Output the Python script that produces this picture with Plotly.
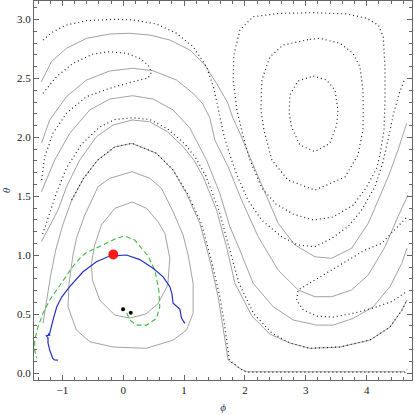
import plotly.graph_objects as go

# ---- solid (gray) level curves ----
loop1_x = [0.148, 0.382, 0.572, 0.683, 0.765, 0.732, 0.567, 0.370, 0.107, -0.140, -0.387, -0.507, -0.523, -0.469, -0.359, -0.140, 0.148]
loop1_y = [1.452, 1.398, 1.284, 1.186, 0.976, 0.747, 0.586, 0.501, 0.467, 0.492, 0.620, 0.789, 0.931, 1.087, 1.256, 1.398, 1.452]

loop2_x = [0.145, 0.436, 0.628, 0.819, 0.984, 1.066, 1.148, 1.148, 1.039, 0.819, 0.382, -0.168, -0.551, -0.770, -0.908, -0.891, -0.826, -0.770, -0.633, -0.414, -0.222, 0.145]
loop2_y = [1.709, 1.653, 1.568, 1.369, 1.171, 1.002, 0.761, 0.507, 0.365, 0.280, 0.210, 0.221, 0.266, 0.365, 0.563, 0.761, 1.002, 1.143, 1.341, 1.582, 1.653, 1.709]

s1_x = [-1.345, -1.181, -0.934, -0.605, -0.222, 0.107, 0.436, 0.765, 1.094, 1.340, 1.533, 1.719, 1.801, 1.916, 2.053, 2.217, 2.377, 2.546, 2.821, 3.150, 3.424, 3.753, 4.026, 4.186, 4.355, 4.515, 4.658]
s1_y = [2.473, 2.643, 2.756, 2.841, 2.878, 2.884, 2.869, 2.827, 2.742, 2.615, 2.459, 2.292, 2.165, 2.037, 1.865, 1.666, 1.469, 1.271, 1.087, 0.987, 0.974, 1.059, 1.271, 1.469, 1.666, 1.893, 2.120]

s2_x = [-1.345, -1.209, -0.934, -0.605, -0.222, 0.151, 0.490, 0.875, 1.148, 1.308, 1.423, 1.505, 1.724, 1.944, 2.217, 2.546, 2.875, 3.150, 3.424, 3.753, 4.026, 4.301, 4.515, 4.679]
s2_y = [1.950, 2.148, 2.346, 2.487, 2.564, 2.587, 2.566, 2.487, 2.374, 2.284, 2.165, 1.978, 1.751, 1.469, 1.157, 0.874, 0.705, 0.648, 0.648, 0.705, 0.832, 1.072, 1.327, 1.511]

s3_x = [-1.345, -1.127, -0.880, -0.551, -0.222, 0.151, 0.490, 0.819, 1.094, 1.368, 1.587, 1.752, 1.916, 2.135, 2.464, 2.793, 3.178, 3.451, 3.780, 4.109, 4.383, 4.576, 4.663]
s3_y = [1.539, 1.808, 2.035, 2.233, 2.326, 2.354, 2.326, 2.233, 2.080, 1.808, 1.525, 1.242, 1.044, 0.761, 0.563, 0.450, 0.407, 0.407, 0.464, 0.563, 0.733, 0.931, 1.061]

s4_x = [-1.345, -1.225, -1.072, -0.934, -0.715, -0.441, -0.168, 0.145, 0.436, 0.732, 0.984, 1.160, 1.313, 1.533, 1.697, 1.834, 2.113, 2.410, 2.738, 3.067, 3.561, 4.054, 4.383, 4.581, 4.663]
s4_y = [1.115, 1.231, 1.384, 1.579, 1.808, 2.006, 2.105, 2.148, 2.133, 2.046, 1.921, 1.808, 1.666, 1.384, 1.072, 0.764, 0.484, 0.331, 0.255, 0.210, 0.221, 0.280, 0.390, 0.535, 0.620]

s5_x = [-1.319, -1.258, -1.192, -1.110, -0.995, -0.847, -0.650, -0.419, -0.140, 0.145, 0.546, 0.819, 1.039, 1.258, 1.423, 1.559, 1.641, 1.724, 1.916, 2.026, 2.903, 3.890, 4.630]
s5_y = [0.422, 0.620, 0.832, 1.044, 1.256, 1.469, 1.655, 1.808, 1.919, 1.950, 1.865, 1.723, 1.525, 1.271, 0.959, 0.648, 0.393, 0.110, 0.040, 0.011, 0.011, 0.011, 0.011]

# ---- dotted (black) level curves ----
d1_x = [-1.319, -1.155, -0.934, -0.605, -0.168, 0.161, 0.546, 0.875, 1.148, 1.368, 1.488, 1.587, 1.653, 1.752, 1.867, 2.048, 2.273, 2.602, 2.870, 3.150, 3.424, 3.692, 3.918, 4.137, 4.268, 4.350, 4.437, 4.526, 4.630]
d1_y = [2.827, 2.897, 2.954, 2.991, 3.003, 2.997, 2.963, 2.884, 2.770, 2.600, 2.419, 2.190, 2.020, 1.851, 1.681, 1.469, 1.299, 1.157, 1.087, 1.072, 1.143, 1.242, 1.384, 1.582, 1.791, 1.978, 2.190, 2.360, 2.504]

d2_x = [-1.319, -1.099, -0.826, -0.497, -0.222, 0.053, 0.271, 0.408, 0.464, 0.408, 0.161, -0.222, -0.605, -0.934, -1.155, -1.291, -1.345]
d2_y = [2.374, 2.515, 2.629, 2.708, 2.728, 2.714, 2.671, 2.615, 2.555, 2.504, 2.473, 2.417, 2.346, 2.205, 2.035, 1.836, 1.624]

d3_x = [-1.324, -1.209, -1.110, -0.934, -0.683, -0.387, -0.140, 0.151, 0.436, 0.732, 1.012, 1.192, 1.357, 1.571, 1.735, 1.900, 2.146, 2.442, 2.738, 3.067, 3.561, 4.054, 4.383, 4.581, 4.663]
d3_y = [1.180, 1.350, 1.511, 1.740, 1.944, 2.088, 2.152, 2.167, 2.152, 2.071, 1.944, 1.825, 1.672, 1.384, 1.070, 0.764, 0.501, 0.340, 0.255, 0.210, 0.221, 0.280, 0.390, 0.535, 0.620]

d5_x = [-0.847, -0.650, -0.419, -0.140, 0.145, 0.546, 0.819, 1.053, 1.283, 1.447, 1.587, 1.669, 1.743, 1.933, 2.031, 2.903, 3.890, 4.630, 4.663]
d5_y = [1.469, 1.655, 1.808, 1.919, 1.950, 1.865, 1.723, 1.525, 1.271, 0.959, 0.648, 0.393, 0.110, 0.031, 0.008, 0.008, 0.008, 0.008, 0.034]

d6_x = [4.646, 4.461, 4.247, 3.972, 3.697, 3.424, 3.150, 2.875, 2.849, 2.957, 3.178, 3.451, 3.780, 4.109, 4.432, 4.646]
d6_y = [1.316, 1.214, 1.101, 1.044, 0.959, 0.874, 0.789, 0.705, 0.620, 0.535, 0.484, 0.475, 0.507, 0.552, 0.611, 0.688]

outer_x = [3.122, 3.671, 4.000, 4.191, 4.273, 4.301, 4.301, 4.285, 4.219, 4.164, 3.988, 3.780, 3.446, 3.122, 2.788, 2.508, 2.278, 2.081, 1.965, 1.867, 1.806, 1.817, 1.916, 2.135, 2.574, 3.122]
outer_y = [3.059, 3.048, 3.011, 2.954, 2.855, 2.600, 2.317, 2.063, 1.851, 1.738, 1.570, 1.426, 1.324, 1.299, 1.350, 1.435, 1.570, 1.808, 2.020, 2.233, 2.487, 2.699, 2.912, 3.025, 3.053, 3.059]

middle_x = [3.067, 3.232, 3.561, 3.775, 3.890, 3.939, 3.944, 3.939, 3.857, 3.643, 3.150, 2.706, 2.442, 2.311, 2.262, 2.278, 2.410, 2.623, 3.067]
middle_y = [2.833, 2.841, 2.799, 2.714, 2.598, 2.402, 2.233, 2.063, 1.851, 1.664, 1.553, 1.638, 1.808, 2.063, 2.233, 2.487, 2.683, 2.784, 2.833]

inner_x = [3.122, 3.342, 3.479, 3.528, 3.507, 3.396, 3.150, 2.903, 2.766, 2.727, 2.738, 2.870, 3.122]
inner_y = [2.521, 2.487, 2.402, 2.233, 2.105, 1.950, 1.879, 1.935, 2.088, 2.205, 2.360, 2.479, 2.521]

# ---- trajectory (blue), green dashed curve, points ----
blue_x = [-1.072, -1.130, -1.160, -1.209, -1.237, -1.237, -1.270, -1.200, -1.237, -1.209, -1.155, -1.094, -1.012, -0.880, -0.661, -0.441, -0.222, 0.053, 0.271, 0.490, 0.655, 0.765, 0.798, 0.819, 0.929, 0.957, 1.012]
blue_y = [0.110, 0.112, 0.127, 0.195, 0.255, 0.300, 0.318, 0.322, 0.330, 0.337, 0.450, 0.560, 0.645, 0.733, 0.860, 0.945, 0.993, 1.002, 0.963, 0.889, 0.817, 0.733, 0.677, 0.592, 0.543, 0.467, 0.422]

green_x = [0.058, 0.107, 0.217, 0.382, 0.546, 0.600, 0.584, 0.518, 0.408, 0.326, 0.189, 0.025, -0.112, -0.304, -0.497, -0.617, -0.715, -0.852, -0.962, -1.099, -1.209, -1.319, -1.401, -1.456, -1.456, -1.423]
green_y = [0.509, 0.450, 0.407, 0.407, 0.464, 0.563, 0.705, 0.874, 0.993, 1.044, 1.129, 1.163, 1.143, 1.095, 1.044, 1.019, 0.974, 0.889, 0.804, 0.705, 0.620, 0.507, 0.393, 0.280, 0.195, 0.127]

red_x = [-0.164]
red_y = [1.006]
black_x = [-0.003, 0.123]
black_y = [0.541, 0.512]

x_ticks = [-1, 0, 1, 2, 3, 4]
y_ticks = [0.0, 0.5, 1.0, 1.5, 2.0, 2.5, 3.0]

GRAY = "#a3a3a3"
fig = go.Figure()

for xs, ys in [(loop1_x, loop1_y), (loop2_x, loop2_y), (s1_x, s1_y), (s2_x, s2_y),
               (s3_x, s3_y), (s4_x, s4_y), (s5_x, s5_y)]:
    fig.add_trace(go.Scatter(x=xs, y=ys, mode="lines",
                             line=dict(color=GRAY, width=1), hoverinfo="skip"))

for xs, ys in [(d1_x, d1_y), (d2_x, d2_y), (d3_x, d3_y), (d5_x, d5_y), (d6_x, d6_y),
               (outer_x, outer_y), (middle_x, middle_y), (inner_x, inner_y)]:
    fig.add_trace(go.Scatter(x=xs, y=ys, mode="lines",
                             line=dict(color="#222222", width=1.2, dash="1px,3px"),
                             hoverinfo="skip"))

fig.add_trace(go.Scatter(x=green_x, y=green_y, mode="lines",
                         line=dict(color="#3fb93f", width=1.1, dash="5px,3px")))
fig.add_trace(go.Scatter(x=blue_x, y=blue_y, mode="lines",
                         line=dict(color="#2431c0", width=1.2)))
fig.add_trace(go.Scatter(x=red_x, y=red_y, mode="markers",
                         marker=dict(color="#ff1a1a", size=10)))
fig.add_trace(go.Scatter(x=black_x, y=black_y, mode="markers",
                         marker=dict(color="black", size=4)))

axis_common = dict(showline=True, linecolor="#666666", linewidth=1, mirror="allticks",
                   ticks="inside", ticklen=5, tickcolor="#666666", showgrid=False,
                   zeroline=False, tickfont=dict(family="Liberation Serif", size=11, color="#222"))

fig.update_layout(
    width=415, height=415, showlegend=False,
    margin=dict(l=34, r=3, t=1, b=35),
    paper_bgcolor="white", plot_bgcolor="white",
    xaxis=dict(range=[-1.467, 4.745], tickvals=x_ticks,
               ticktext=[str(v) if v >= 0 else "\u2212" + str(-v) for v in x_ticks],
               minor=dict(dtick=0.2, tick0=0, ticks="inside", ticklen=3, tickcolor="#666666"),
               title=dict(text="<i>ϕ</i>", font=dict(family="Liberation Serif", size=11), standoff=8),
               automargin=False, **axis_common),
    yaxis=dict(range=[-0.059, 3.158], tickvals=y_ticks,
               ticktext=[f"{v:.1f}" for v in y_ticks],
               minor=dict(dtick=0.1, tick0=0, ticks="inside", ticklen=3, tickcolor="#666666"),
               title=dict(text="<i>θ</i>", font=dict(family="Liberation Serif", size=11), standoff=6),
               automargin=False, **axis_common),
)

fig.write_html("out.html", config={"displayModeBar": False},
               post_script="document.body.style.margin='0';document.body.style.overflow='hidden';")
